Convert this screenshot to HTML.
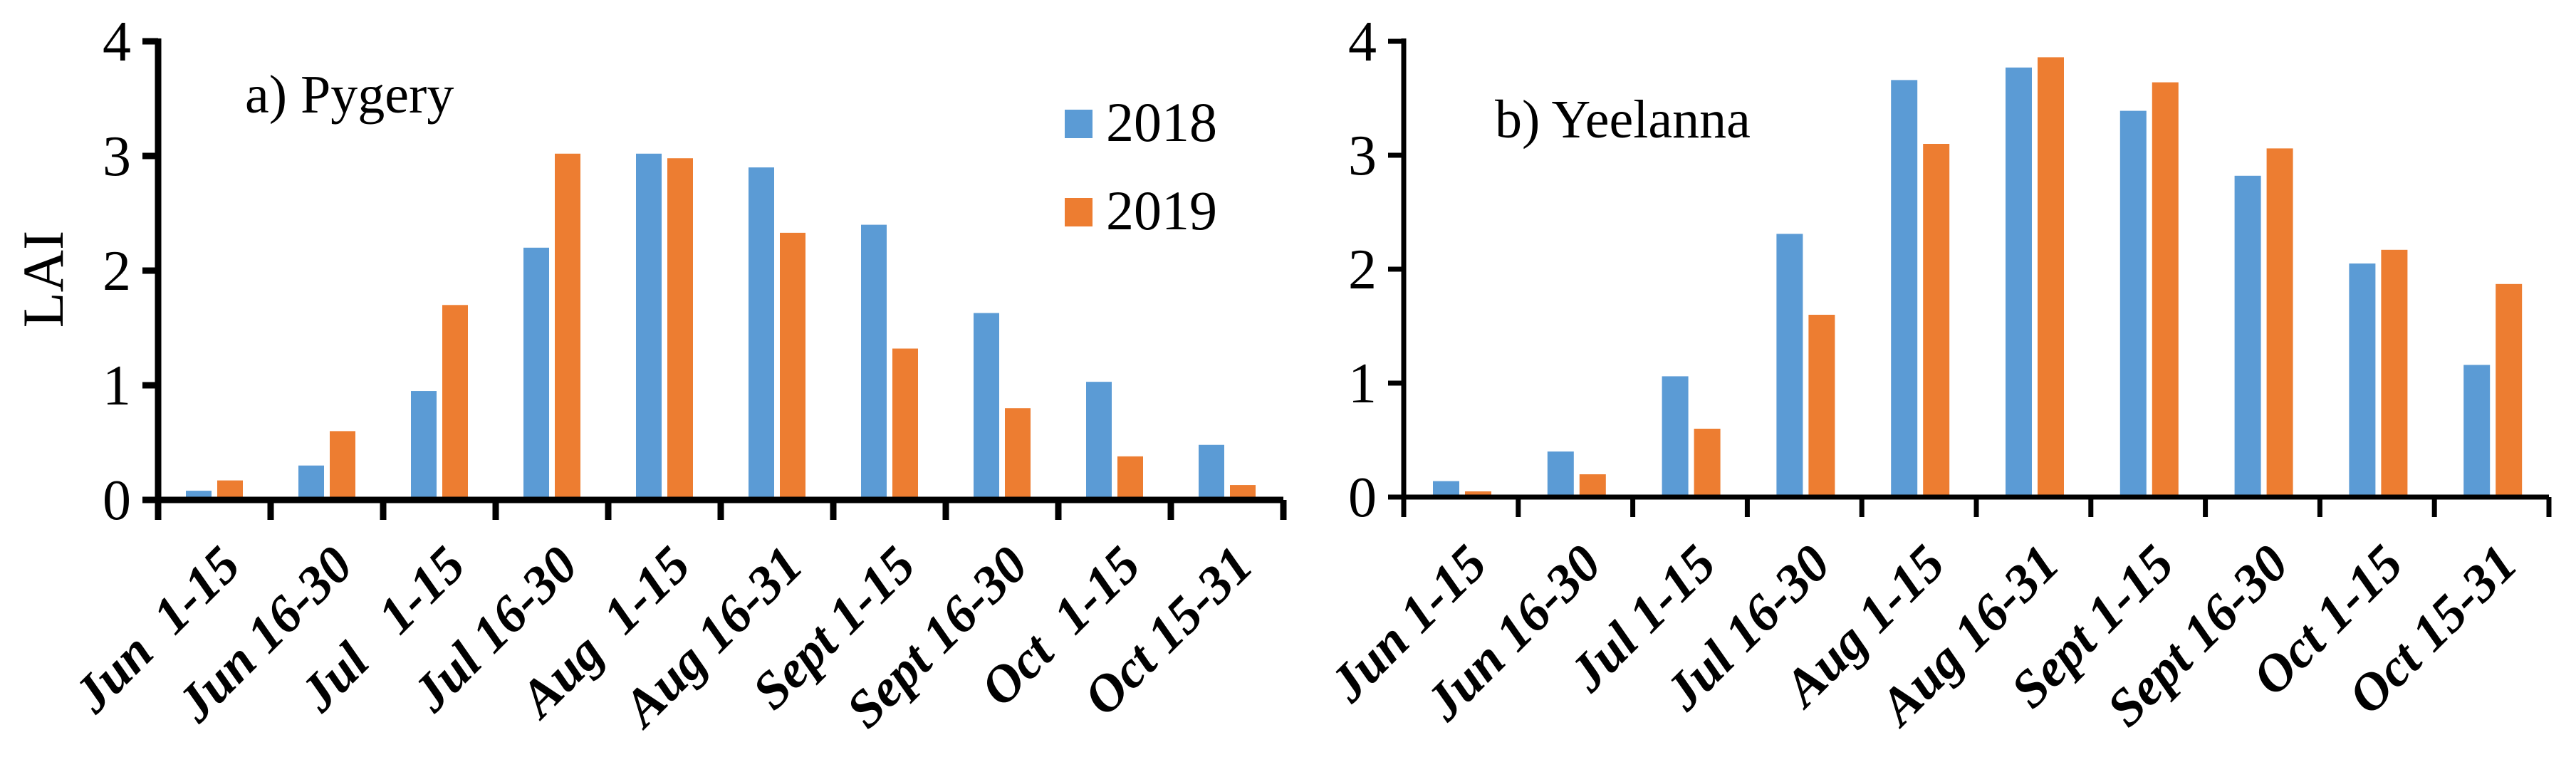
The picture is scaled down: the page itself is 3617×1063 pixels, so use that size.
<!DOCTYPE html>
<html><head><meta charset="utf-8"><style>
html,body{margin:0;padding:0;background:#fff;}
svg{display:block;}
text{font-family:"Liberation Serif",serif;}
</style></head><body>
<svg id="chart" width="3617" height="1063" viewBox="0 0 3617 1063" xmlns="http://www.w3.org/2000/svg">
</svg>
<script>
const categoriesA = ["Jun  1-15","Jun 16-30","Jul   1-15","Jul 16-30","Aug  1-15","Aug 16-31","Sept 1-15","Sept 16-30","Oct  1-15","Oct 15-31"];
const categoriesB = ["Jun 1-15","Jun 16-30","Jul 1-15","Jul 16-30","Aug 1-15","Aug 16-31","Sept 1-15","Sept 16-30","Oct 1-15","Oct 15-31"];
const pygery2018 = [0.08,0.30,0.95,2.20,3.02,2.90,2.40,1.63,1.03,0.48];
const pygery2019 = [0.17,0.60,1.70,3.02,2.98,2.33,1.32,0.80,0.38,0.13];
const yeelanna2018 = [0.14,0.40,1.06,2.31,3.66,3.77,3.39,2.82,2.05,1.16];
const yeelanna2019 = [0.05,0.20,0.60,1.60,3.10,3.86,3.64,3.06,2.17,1.87];
const yTicks = [0,1,2,3,4];
const seriesNames = ["2018","2019"];
const BLUE="#5B9BD5", ORANGE="#ED7D31";
const NS="http://www.w3.org/2000/svg";
const svg=document.getElementById('chart');
function mk(tag,attrs,parent){const e=document.createElementNS(NS,tag);for(const k in attrs)e.setAttribute(k,attrs[k]);(parent||svg).appendChild(e);return e;}

function panel(cfg){
  const g=mk('g',{});
  
  
  const n=cfg.cats.length, cw=(cfg.x1-cfg.x0)/n;
  const yS=v=>cfg.y0-(v/4)*(cfg.y0-cfg.y4);
  const xS=i=>cfg.x0+i*cw;
  [cfg.s1,cfg.s2].forEach((arr,si)=>{
    arr.forEach((v,i)=>{
      const bx=xS(i)+cfg.off+si*(cfg.bw+cfg.gap);
      const r=mk('rect',{x:bx,y:yS(v),width:cfg.bw,height:yS(0)-yS(v),fill:si?ORANGE:BLUE},g);
      
      
    });
  });
  const ya=mk('line',{x1:cfg.x0,y1:cfg.y4-4,x2:cfg.x0,y2:cfg.y0+cfg.aw/2,stroke:'#000','stroke-width':cfg.aw},g);
  
  
  yTicks.forEach(t=>{
    mk('line',{x1:cfg.x0-22,y1:yS(t),x2:cfg.x0,y2:yS(t),stroke:'#000','stroke-width':cfg.aw},g);
    const tx=mk('text',{x:cfg.x0-38,y:yS(t)+27,'font-size':cfg.tfs,'text-anchor':'end',fill:'#000'},g);
    tx.textContent=t;
    
    
  });
  const xa=mk('line',{x1:cfg.x0-22,y1:cfg.y0,x2:cfg.x1,y2:cfg.y0,stroke:'#000','stroke-width':cfg.aw},g);
  
  
  for(let i=0;i<=n;i++){
    mk('line',{x1:xS(i),y1:cfg.y0,x2:xS(i),y2:cfg.y0+28,stroke:'#000','stroke-width':cfg.aw},g);
  }
  cfg.cats.forEach((c,i)=>{
    const cx=xS(i)+cw/2+cfg.lx, cy=cfg.y0+cfg.ly;
    const t=mk('text',{x:0,y:0,'font-size':cfg.xfs,'font-weight':'bold','font-style':'italic','text-anchor':'end',transform:'translate('+cx+' '+cy+') rotate(-45)',fill:'#000'},g);
    t.style.whiteSpace='pre';
    t.textContent=c;
    
    
  });
  const tt=mk('text',{x:cfg.tx,y:cfg.ty,'font-size':cfg.tfs2,fill:'#000'},g);
  tt.textContent=cfg.title;
  
  
}

panel({name:'panel-a-pygery',cats:categoriesA,s1:pygery2018,s2:pygery2019,x0:222,x1:1802,y0:702,y4:58,off:39,bw:36,gap:8,aw:9,tfs:80,xfs:74,lx:40,ly:96,title:'a) Pygery',tx:344,ty:158,tfs2:76});
panel({name:'panel-b-yeelanna',cats:categoriesB,s1:yeelanna2018,s2:yeelanna2019,x0:1971,x1:3579,y0:698,y4:58,off:41,bw:37,gap:8,aw:7,tfs:80,xfs:74,lx:40,ly:98,title:'b) Yeelanna',tx:2099,ty:193,tfs2:76});

const lai=mk('text',{x:0,y:0,'font-size':82,'text-anchor':'middle',transform:'translate(88 392) rotate(-90)',fill:'#000'});
lai.textContent='LAI';



[[BLUE,154,198],[ORANGE,278,322]].forEach((d,i)=>{
  const lg=mk('g',{});
  
  
  mk('rect',{x:1495,y:d[1],width:39,height:40,fill:d[0]},lg);
  const t=mk('text',{x:1553,y:d[2],'font-size':78,fill:'#000'},lg);
  t.textContent=seriesNames[i];
});
</script>
</body></html>
